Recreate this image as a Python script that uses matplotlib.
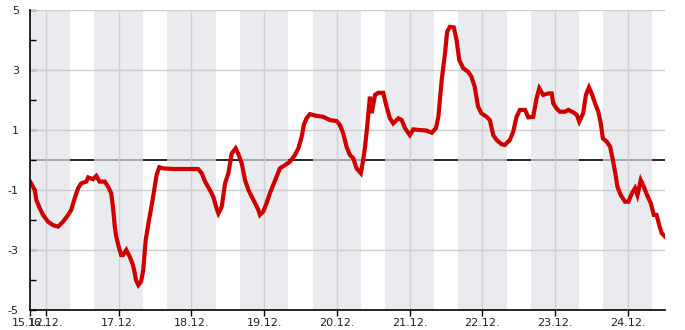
import matplotlib
matplotlib.use("Agg")
import matplotlib.pyplot as plt
from matplotlib.ticker import FixedLocator

# hours since 15.12. 00:00
hours = [18.8, 20.3, 20.8, 21.9, 23.0, 24.7, 26.3, 28.0, 29.6, 31.3, 32.3, 33.5, 34.6, 35.6,
         37.3, 37.9, 39.5, 40.6, 41.7, 43.4, 44.5, 45.5, 46.1, 46.7, 47.2, 48.0, 48.8, 49.4,
         50.5, 51.6, 52.7, 53.3, 53.7, 54.5, 55.4, 56.1, 56.9, 58.0, 59.2, 60.5, 61.4, 62.7,
         66.0, 70.0, 74.2, 75.4, 76.5, 78.1, 79.2, 80.3, 80.9, 82.0, 83.1, 84.2, 85.3, 86.6,
         87.4, 88.6, 89.7, 90.8, 91.9, 93.0, 94.1, 94.6, 95.7, 96.8, 97.9, 99.0, 100.1, 101.2,
         102.9, 104.5, 106.2, 107.3, 108.4, 109.1, 110.0, 111.1, 113.3, 115.5, 117.7, 119.9,
         121.0, 122.1, 123.2, 124.3, 125.4, 126.5, 127.9, 128.7, 129.3, 130.0, 130.9, 131.5,
         132.6, 133.7, 135.3, 136.4, 137.5, 138.6, 140.3, 141.4, 142.5, 144.1, 145.2, 147.4,
         149.6, 151.3, 152.7, 153.5, 154.6, 155.7, 156.4, 157.3, 158.6, 159.5, 160.4, 161.7,
         163.3, 164.4, 165.5, 166.6, 167.7, 169.4, 170.5, 171.6, 172.7, 174.3, 175.4, 177.1,
         178.2, 179.3, 180.4, 182.1, 183.2, 184.8, 185.9, 186.8, 188.1, 189.8, 190.9, 191.4,
         192.5, 193.6, 195.3, 196.4, 198.0, 199.2, 200.0, 201.3, 202.2, 203.2, 204.1, 205.2,
         206.3, 207.1, 207.8, 209.1, 210.2, 211.1, 211.9, 212.6, 213.7, 215.1, 216.2, 217.4,
         218.4, 219.2, 220.3, 221.3, 222.4, 223.6, 224.6, 225.5, 226.4, 227.2, 228.3]
values = [-0.73, -1.0, -1.33, -1.6, -1.83, -2.06, -2.17, -2.22, -2.06, -1.83, -1.67, -1.27, -0.94, -0.78,
          -0.72, -0.58, -0.64, -0.53, -0.72, -0.72, -0.89, -1.1, -1.56, -2.22, -2.56, -2.89, -3.17, -3.17,
          -3.0, -3.22, -3.5, -3.77, -4.0, -4.17, -4.05, -3.67, -2.67, -2.0, -1.33, -0.5, -0.24, -0.28,
          -0.3, -0.3, -0.3, -0.44, -0.72, -1.0, -1.22, -1.61, -1.78, -1.56, -0.78, -0.44, 0.22, 0.39,
          0.22, -0.11, -0.67, -1.0, -1.22, -1.44, -1.67, -1.83, -1.72, -1.44, -1.11, -0.83, -0.56, -0.28,
          -0.17, -0.06, 0.17, 0.39, 0.78, 1.17, 1.39, 1.53, 1.47, 1.44, 1.33, 1.3,
          1.17, 0.89, 0.44, 0.17, 0.06, -0.28, -0.44, 0.0, 0.44, 1.11, 2.11, 1.56,
          2.17, 2.24, 2.24, 1.78, 1.39, 1.22, 1.39, 1.33, 1.06, 0.83, 1.02, 1.0,
          0.98, 0.91, 1.06, 1.44, 2.67, 3.56, 4.28, 4.44, 4.42, 4.0, 3.33, 3.06,
          2.94, 2.78, 2.44, 1.78, 1.56, 1.44, 1.33, 0.83, 0.67, 0.53, 0.5, 0.67,
          0.94, 1.44, 1.67, 1.67, 1.42, 1.44, 2.05, 2.39, 2.17, 2.22, 2.22, 1.89,
          1.72, 1.61, 1.61, 1.67, 1.59, 1.5, 1.28, 1.56, 2.17, 2.42, 2.22, 1.89,
          1.61, 1.22, 0.72, 0.61, 0.44, 0.0, -0.44, -0.89, -1.17, -1.39, -1.39, -1.11,
          -0.94, -1.17, -0.67, -0.89, -1.17, -1.44, -1.83, -1.83, -2.17, -2.44, -2.55]

# midnights of 16.12. ... 24.12. (hours since 15.12. 00:00)
day_ticks = [24, 48, 72, 96, 120, 144, 168, 192, 216]
day_labels = ["16.12.", "17.12.", "18.12.", "19.12.", "20.12.", "21.12.", "22.12.", "23.12.", "24.12."]
start_label = "15.12."
y_major = [-5, -3, -1, 1, 3, 5]
y_minor = [-4, -2, 0, 2, 4]

x_min, x_max = 18.72, 228.3

fig = plt.figure(figsize=(6.85, 3.3), dpi=100)
ax = fig.add_axes([30 / 685, 20 / 330, 635 / 685, 300 / 330])

# zero line under night shading
ax.axhline(0, color="black", lw=1.2, zorder=1)

# night shading (16:00 - 08:00)
for mid in [0] + day_ticks + [240]:
    ax.axvspan(mid - 8, mid + 8, color=(0.882, 0.886, 0.91), alpha=0.69, lw=0, zorder=1.5)

for y in y_major:
    ax.axhline(y, color="#cccccc", lw=1.0, zorder=2)
for x in day_ticks:
    ax.axvline(x, color="#d0d0d4", lw=1.0, zorder=2)

ax.plot(hours, values, color="#d00000", lw=3.0, zorder=3, solid_joinstyle="miter")

ax.set_xlim(x_min, x_max)
ax.set_ylim(-5, 5)

ax.set_xticks([x_min] + day_ticks)
ax.set_xticklabels([start_label] + day_labels, fontsize=8, color="#222222")
ax.tick_params(axis="x", direction="out", length=4, width=1, pad=2)

ax.yaxis.set_major_locator(FixedLocator(y_major))
ax.yaxis.set_minor_locator(FixedLocator(y_minor))
ax.set_yticklabels([str(v) for v in y_major], fontsize=8, color="#222222")
ax.tick_params(axis="y", which="major", direction="in", length=4, width=1, pad=8)
ax.tick_params(axis="y", which="minor", direction="in", length=4, width=1)

for s in ["top", "right"]:
    ax.spines[s].set_visible(False)
for s in ["left", "bottom"]:
    ax.spines[s].set_color("black")
    ax.spines[s].set_linewidth(1.2)
    ax.spines[s].set_zorder(4)

fig.savefig("out.png", dpi=100)
